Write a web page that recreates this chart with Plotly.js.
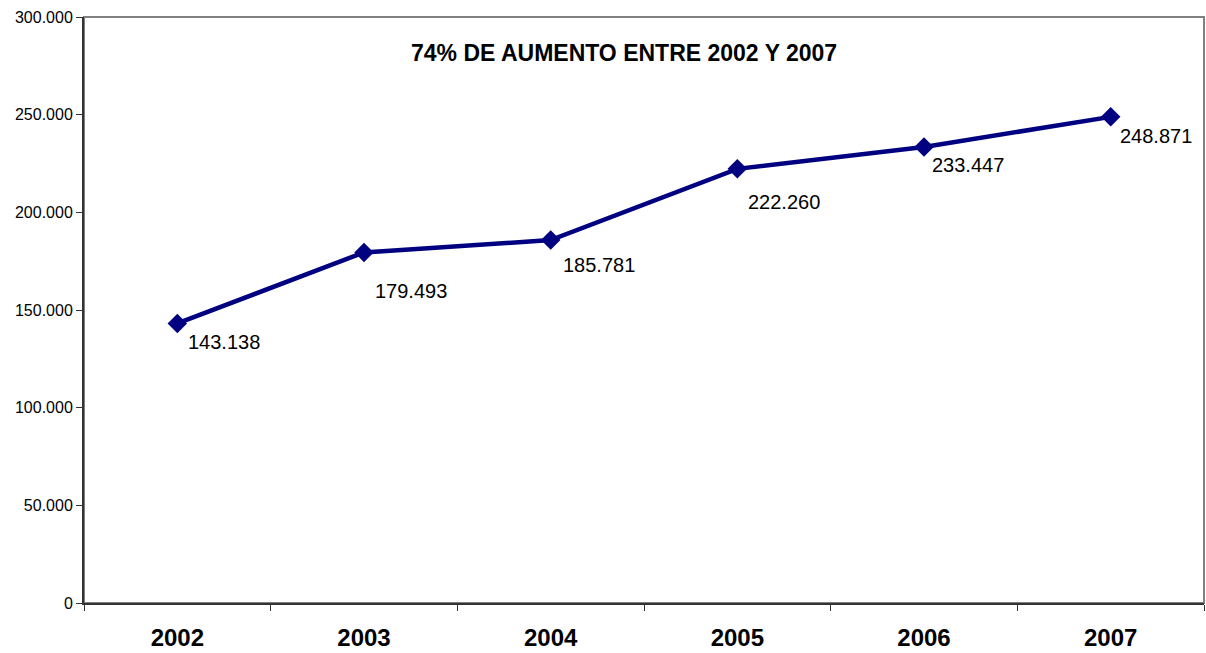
<!DOCTYPE html>
<html>
<head>
<meta charset="utf-8">
<script src="https://cdn.plot.ly/plotly-3.0.1.min.js"></script>
<style>html,body{margin:0;padding:0;background:#fff}#chart{width:1206px;height:653px}</style>
</head>
<body>
<div id="chart"></div>
<script>
var years = ['2002', '2003', '2004', '2005', '2006', '2007'];
var values = [143138, 179493, 185781, 222260, 233447, 248871];
var valueLabels = ['143.138', '179.493', '185.781', '222.260', '233.447', '248.871'];
var yTickVals = [0, 50000, 100000, 150000, 200000, 250000, 300000];
var yTickText = ['0', '50.000', '100.000', '150.000', '200.000', '250.000', '300.000'];
var titleText = '74% DE AUMENTO ENTRE 2002 Y 2007';

// pixel offsets of the value labels relative to their markers (style only)
var labelDX = [9, 9, 10, 9, 6, 7];
var labelDY = [-19, -39, -25, -33, -18, -19];

var trace = {
  x: years, y: values, type: 'scatter', mode: 'lines+markers',
  line: {color: '#000080', width: 4.5},
  marker: {symbol: 'diamond', size: 15, color: '#000080'},
  hoverinfo: 'skip'
};

var annotations = years.map(function (yr, i) {
  return {x: i, y: values[i], text: valueLabels[i], showarrow: false,
    xanchor: 'left', yanchor: 'middle', xshift: labelDX[i], yshift: labelDY[i],
    font: {family: 'Arial, Liberation Sans, sans-serif', size: 20, color: '#000'}};
});
annotations.push({xref: 'paper', yref: 'paper', x: 0.482, y: 0.939, text: '<b>' + titleText + '</b>',
  showarrow: false, xanchor: 'center', yanchor: 'middle',
  font: {family: 'Arial, Liberation Sans, sans-serif', size: 23, color: '#000'}});

var layout = {
  width: 1206, height: 653,
  margin: {l: 84, r: 2, t: 17, b: 50},
  paper_bgcolor: '#fff', plot_bgcolor: '#fff',
  showlegend: false,
  font: {family: 'Arial, Liberation Sans, sans-serif', color: '#000'},
  xaxis: {type: 'category', tickson: 'boundaries', ticks: 'outside', ticklen: 6, tickcolor: '#333', tickwidth: 1,
    showline: true, linecolor: '#333', linewidth: 2, showgrid: false, zeroline: false, ticklabelstandoff: 12,
    tickfont: {size: 24, family: 'Arial, Liberation Sans, sans-serif', weight: 'bold'}, range: [-0.5, 5.5], fixedrange: true},
  yaxis: {range: [0, 300000], tickvals: yTickVals, ticktext: yTickText, ticks: 'outside', ticklen: 6, tickcolor: '#333',
    showline: true, linecolor: '#333', linewidth: 2, showgrid: false, zeroline: false,
    tickfont: {size: 16}, fixedrange: true},
  shapes: [{type: 'rect', xref: 'paper', yref: 'paper', x0: 0, x1: 1, y0: 0, y1: 1, line: {color: '#808080', width: 2}, layer: 'below'}],
  annotations: annotations
};
Plotly.newPlot('chart', [trace], layout, {displayModeBar: false, staticPlot: true});
</script>
</body>
</html>
